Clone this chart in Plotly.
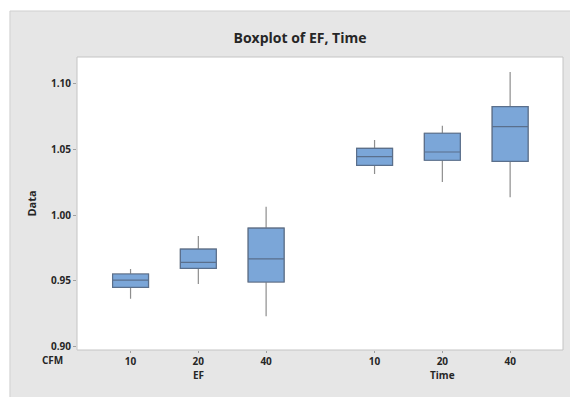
import plotly.graph_objects as go

# ---- data ----
groups = ["EF", "EF", "EF", "Time", "Time", "Time"]
levels = ["10", "20", "40", "10", "20", "40"]
positions = [1.0, 2.0, 3.0, 4.6, 5.6, 6.6]
lower_whisker = [0.9361, 0.9473, 0.9227, 1.0313, 1.0252, 1.0135]
q1_vals = [0.9448, 0.9593, 0.9489, 1.0379, 1.0418, 1.0410]
median_vals = [0.9504, 0.9639, 0.9666, 1.0445, 1.0481, 1.0674]
q3_vals = [0.9550, 0.9740, 0.9900, 1.0509, 1.0624, 1.0827]
upper_whisker = [0.9588, 0.9840, 1.0063, 1.0573, 1.0682, 1.1092]
y_ticks = [0.90, 0.95, 1.00, 1.05, 1.10]

FONT = "Open Sans"
TXT = "#262626"

# The page body has an 8px margin, so the figure is drawn 8px smaller
W, H = 570, 389

fig = go.Figure()
# whiskers (light gray)
fig.add_trace(go.Box(
    x=positions,
    q1=q1_vals, median=median_vals, q3=q3_vals,
    lowerfence=lower_whisker, upperfence=upper_whisker,
    fillcolor="#7BA6D8",
    line=dict(color="#8E8E8E", width=1.2),
    width=0.53, whiskerwidth=0, boxpoints=False,
    hoverinfo="skip", showlegend=False,
))
# boxes with darker outline on top
fig.add_trace(go.Box(
    x=positions,
    q1=q1_vals, median=median_vals, q3=q3_vals,
    lowerfence=q1_vals, upperfence=q3_vals,
    fillcolor="#7BA6D8",
    line=dict(color="#5A6F8C", width=1.2),
    width=0.53, whiskerwidth=0, boxpoints=False,
    hoverinfo="skip", showlegend=False,
))

# gray panel and white plot area
fig.add_shape(type="rect", xref="paper", yref="paper",
              x0=-0.138, x1=1.04, y0=-0.2, y1=1.157,
              fillcolor="#E6E6E6", line=dict(color="#D0D0D0", width=1), layer="below")
fig.add_shape(type="rect", xref="paper", yref="paper",
              x0=0, x1=1, y0=0, y1=1,
              fillcolor="white", line=dict(color="#C4C4C4", width=1), layer="below")

# group labels
for g, xpos in [("EF", 2.0), ("Time", 5.6)]:
    fig.add_annotation(x=xpos, y=0, xref="x", yref="paper", yshift=-25,
                       text=g, showarrow=False, yanchor="middle",
                       font=dict(family=FONT, size=10, color=TXT, weight="bold"))
fig.add_annotation(x=-0.024, y=0, xref="paper", yref="paper", yshift=-9.5,
                   text="CFM", showarrow=False, yanchor="middle", xanchor="right",
                   font=dict(family=FONT, size=10, color=TXT, weight="bold"))

fig.update_layout(
    width=W, height=H,
    margin=dict(l=69, r=15, t=49, b=47),
    paper_bgcolor="white",
    plot_bgcolor="rgba(0,0,0,0)",
    boxmode="overlay",
    title=dict(text="Boxplot of EF, Time", x=292 / W, xref="container",
               y=1 - 30 / H, yref="container", yanchor="middle", xanchor="center",
               font=dict(family=FONT, size=14, color=TXT, weight="bold")),
    font=dict(family=FONT, size=10, color=TXT),
    xaxis=dict(
        range=[0.21, 7.38],
        tickvals=positions, ticktext=levels,
        ticks="outside", ticklen=2, tickcolor="#A0A0A0",
        showgrid=False, zeroline=False, showline=False,
        tickfont=dict(family=FONT, size=10, color=TXT, weight="bold"),
    ),
    yaxis=dict(
        range=[0.897, 1.1206],
        tickvals=y_ticks, ticktext=[f"{v:.2f}" for v in y_ticks],
        ticks="outside", ticklen=3, tickcolor="#A0A0A0",
        showgrid=False, zeroline=False, showline=False,
        title=dict(text="Data", standoff=12,
                   font=dict(family=FONT, size=11, color=TXT, weight="bold")),
        tickfont=dict(family=FONT, size=10, color=TXT, weight="bold"),
    ),
)

fig.write_html("out.html")
